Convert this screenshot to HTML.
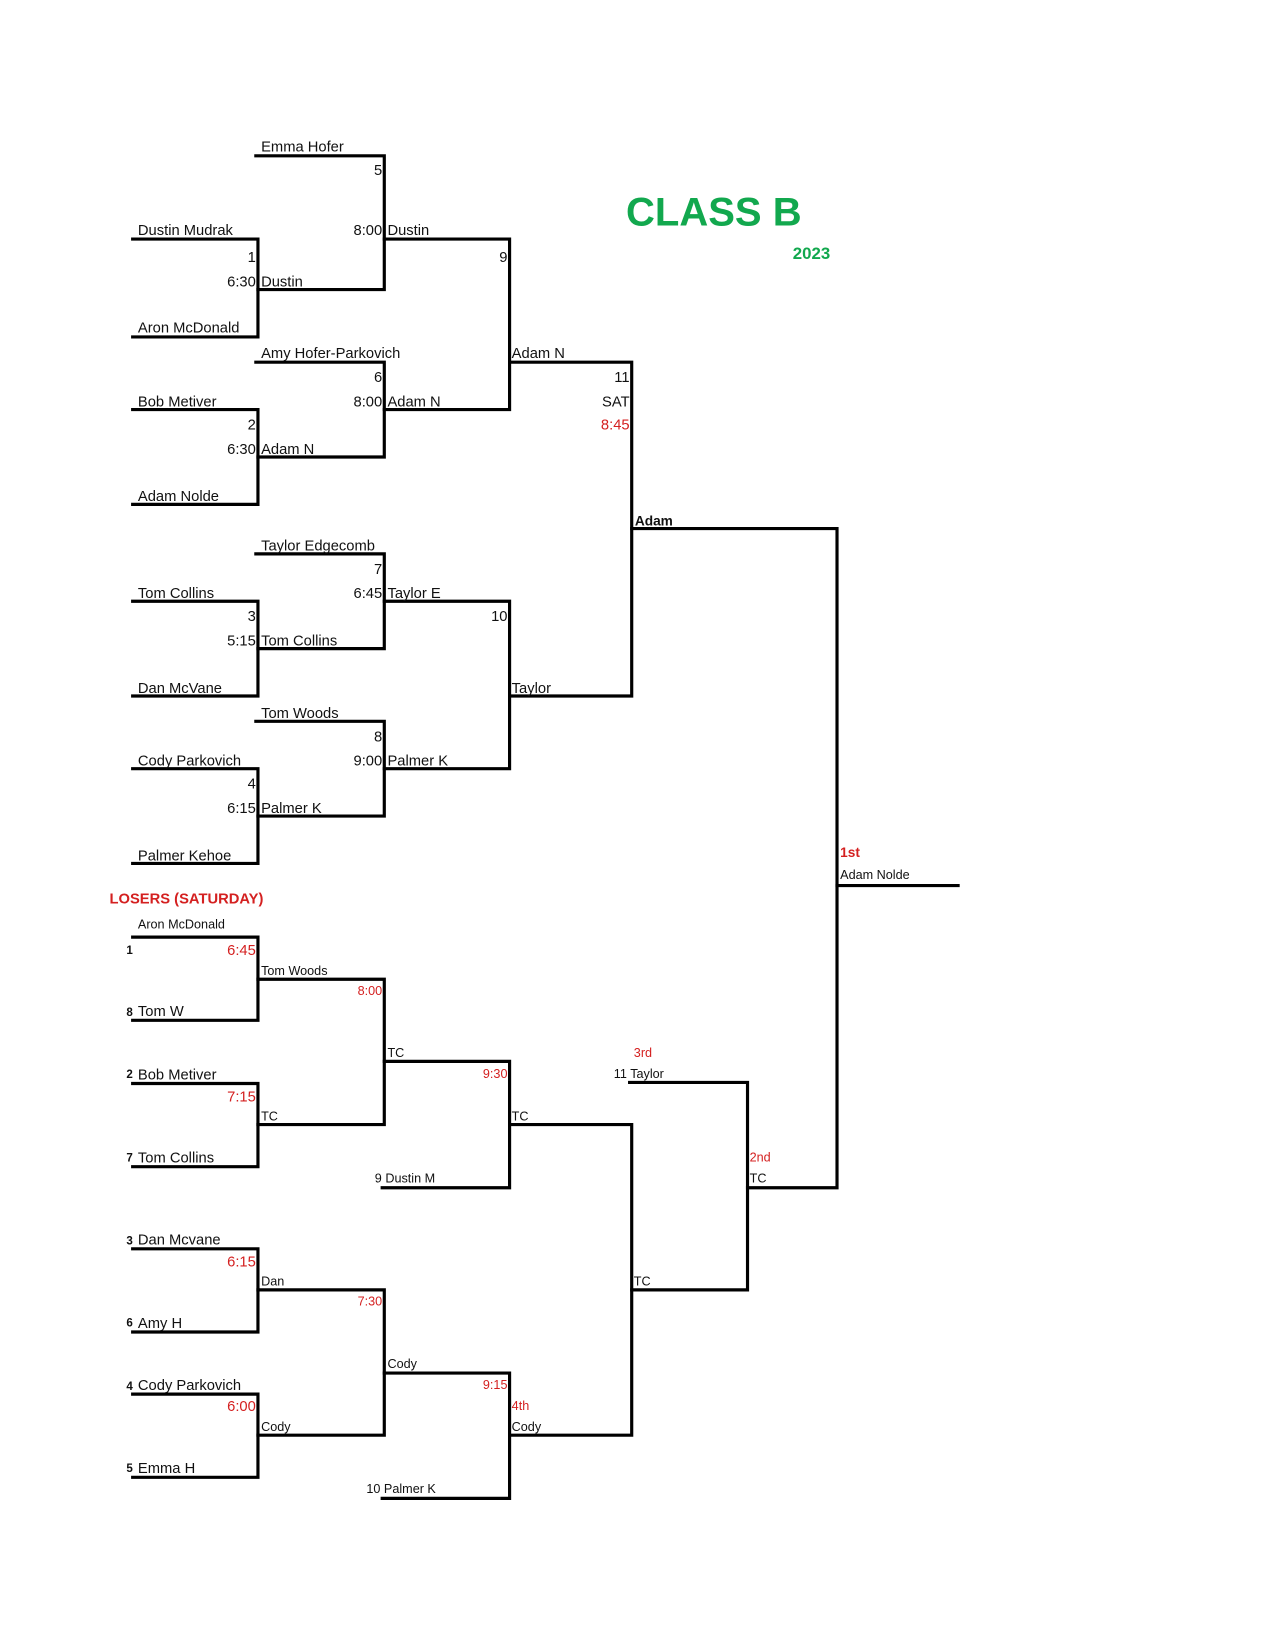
<!DOCTYPE html>
<html><head><meta charset="utf-8"><style>
html,body{margin:0;padding:0;background:#fff;}
svg{display:block;}
text{font-family:"Liberation Sans",sans-serif;}
.n{font-size:14px;fill:#111;}
.s{font-size:12px;fill:#111;}
.r{fill:#d42020;}
.b{font-weight:bold;}
</style></head><body>
<svg width="1275" height="1650" viewBox="0 0 1211 1567" preserveAspectRatio="none" xmlns="http://www.w3.org/2000/svg">
<g stroke="#000" stroke-width="3" fill="none" stroke-linecap="square">
<path d="M243 148H365V275H245"/>
<path d="M126 227H245V320H126"/>
<path d="M365 227H484V389H365"/>
<path d="M243 344H365V434H245"/>
<path d="M126 389H245V479H126"/>
<path d="M484 344H600V661H484"/>
<path d="M243 526H365V616H245"/>
<path d="M126 571H245V661H126"/>
<path d="M365 571H484V730H365"/>
<path d="M243 685H365V775H245"/>
<path d="M126 730H245V820H126"/>
<path d="M600 502H795V1128H710"/>
<path d="M795 841H910"/>
<path d="M126 890H245V969H126"/>
<path d="M245 930H365V1068H245"/>
<path d="M126 1029H245V1108H126"/>
<path d="M365 1008H484V1128H363"/>
<path d="M484 1068H600V1363H484"/>
<path d="M126 1186H245V1265H126"/>
<path d="M245 1225H365V1363H245"/>
<path d="M126 1324H245V1403H126"/>
<path d="M365 1304H484V1423H363"/>
<path d="M598 1028H710V1225H600"/>
</g>
<text x="678" y="214" text-anchor="middle" font-size="38" font-weight="bold" fill="#12a84e">CLASS B</text>
<text x="753" y="246" font-size="16" font-weight="bold" fill="#12a84e">2023</text>
<g class="n">
<text x="248" y="144">Emma Hofer</text>
<text x="363" y="166" text-anchor="end">5</text>
<text x="363" y="223" text-anchor="end">8:00</text>
<text x="368" y="223">Dustin</text>
<text x="131" y="223">Dustin Mudrak</text>
<text x="243" y="249" text-anchor="end">1</text>
<text x="243" y="272" text-anchor="end">6:30</text>
<text x="248" y="272">Dustin</text>
<text x="131" y="316">Aron McDonald</text>
<text x="482" y="249" text-anchor="end">9</text>
<text x="248" y="340">Amy Hofer-Parkovich</text>
<text x="363" y="363" text-anchor="end">6</text>
<text x="363" y="386" text-anchor="end">8:00</text>
<text x="368" y="386">Adam N</text>
<text x="131" y="386">Bob Metiver</text>
<text x="243" y="408" text-anchor="end">2</text>
<text x="243" y="431" text-anchor="end">6:30</text>
<text x="248" y="431">Adam N</text>
<text x="131" y="476">Adam Nolde</text>
<text x="486" y="340">Adam N</text>
<text x="598" y="363" text-anchor="end">11</text>
<text x="598" y="386" text-anchor="end">SAT</text>
<text x="598" y="408" text-anchor="end" class="r">8:45</text>
<text x="603" y="499" class="b" font-size="13">Adam</text>
<text x="248" y="523">Taylor Edgecomb</text>
<text x="363" y="545" text-anchor="end">7</text>
<text x="363" y="568" text-anchor="end">6:45</text>
<text x="368" y="568">Taylor E</text>
<text x="131" y="568">Tom Collins</text>
<text x="243" y="590" text-anchor="end">3</text>
<text x="243" y="613" text-anchor="end">5:15</text>
<text x="248" y="613">Tom Collins</text>
<text x="482" y="590" text-anchor="end">10</text>
<text x="131" y="658">Dan McVane</text>
<text x="486" y="658">Taylor</text>
<text x="248" y="682">Tom Woods</text>
<text x="363" y="704" text-anchor="end">8</text>
<text x="363" y="727" text-anchor="end">9:00</text>
<text x="368" y="727">Palmer K</text>
<text x="131" y="727">Cody Parkovich</text>
<text x="243" y="749" text-anchor="end">4</text>
<text x="243" y="772" text-anchor="end">6:15</text>
<text x="248" y="772">Palmer K</text>
<text x="131" y="817">Palmer Kehoe</text>
</g>
<text x="798" y="814" font-size="13" class="r b">1st</text>
<text x="798" y="835" class="s">Adam Nolde</text>
<text x="104" y="858" font-size="14" class="r b">LOSERS (SATURDAY)</text>
<g class="s">
<text x="131" y="882">Aron McDonald</text>
<text x="120" y="906" font-weight="bold" font-size="11">1</text>
<text x="243" y="907" text-anchor="end" class="r" font-size="14">6:45</text>
<text x="248" y="926">Tom Woods</text>
<text x="363" y="945" text-anchor="end" class="r">8:00</text>
<text x="120" y="965" font-weight="bold" font-size="11">8</text>
<text x="368" y="1004">TC</text>
<text x="482" y="1024" text-anchor="end" class="r">9:30</text>
<text x="120" y="1024" font-weight="bold" font-size="11">2</text>
<text x="243" y="1046" text-anchor="end" class="r" font-size="14">7:15</text>
<text x="248" y="1064">TC</text>
<text x="486" y="1064">TC</text>
<text x="120" y="1103" font-weight="bold" font-size="11">7</text>
<text x="356" y="1123">9 Dustin M</text>
<text x="602" y="1004" class="r">3rd</text>
<text x="583" y="1024">11 Taylor</text>
<text x="712" y="1103" class="r">2nd</text>
<text x="712" y="1123">TC</text>
<text x="120" y="1182" font-weight="bold" font-size="11">3</text>
<text x="243" y="1203" text-anchor="end" class="r" font-size="14">6:15</text>
<text x="248" y="1221">Dan</text>
<text x="602" y="1221">TC</text>
<text x="363" y="1240" text-anchor="end" class="r">7:30</text>
<text x="120" y="1260" font-weight="bold" font-size="11">6</text>
<text x="368" y="1299">Cody</text>
<text x="482" y="1319" text-anchor="end" class="r">9:15</text>
<text x="120" y="1320" font-weight="bold" font-size="11">4</text>
<text x="243" y="1340" text-anchor="end" class="r" font-size="14">6:00</text>
<text x="486" y="1339" class="r">4th</text>
<text x="248" y="1359">Cody</text>
<text x="486" y="1359">Cody</text>
<text x="120" y="1398" font-weight="bold" font-size="11">5</text>
<text x="348" y="1418">10 Palmer K</text>
</g>
<g class="n">
<text x="131" y="965">Tom W</text>
<text x="131" y="1025">Bob Metiver</text>
<text x="131" y="1104">Tom Collins</text>
<text x="131" y="1182">Dan Mcvane</text>
<text x="131" y="1261">Amy H</text>
<text x="131" y="1320">Cody Parkovich</text>
<text x="131" y="1399">Emma H</text>
</g>
</svg>
</body></html>
